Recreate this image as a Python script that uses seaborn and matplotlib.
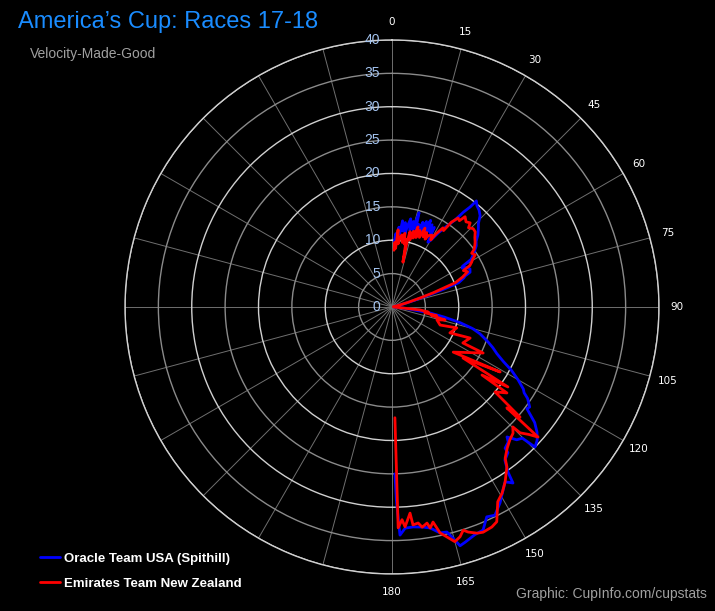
import numpy as np
import pandas as pd
import matplotlib
matplotlib.use('Agg')
import matplotlib.pyplot as plt
import matplotlib.transforms as mtransforms
from matplotlib.lines import Line2D
import seaborn as sns

# true wind angle (deg) and velocity-made-good (knots), in sailing order
oracle_angle = [2, 3, 4, 5, 6, 7, 8, 9, 10, 11, 12, 13, 14, 15, 16, 17, 18, 19, 20, 21,
                22, 23, 24, 25, 26, 27, 28, 29, 30, 32, 34, 36, 37, 38, 38.5, 40, 42, 44, 46, 48,
                50, 52, 54, 56, 58, 59, 60, 61, 62, 64, 66, 67, 68, 70, 71, 72, 73.5, 76, 80,
                92, 96, 99, 101, 103, 105, 107, 110, 112, 114, 116, 118, 120, 122, 123, 124, 126,
                127, 128.4, 129, 130.8, 132.5, 134.4, 135.2, 136.8, 138.5, 139.3, 141.3, 141.5,
                143.6, 144.9, 145.5, 147.1, 150, 151.1, 153.7, 155.7, 157.8, 160, 162.7, 164.1,
                165.4, 166.3, 168, 170.2, 172, 174.5, 176.6, 178, 178.7, 179]
oracle_vmg = [9.8, 11.0, 10.2, 12.0, 11.0, 13.0, 11.5, 12.8, 11.2, 12.5, 13.5, 11.8, 13.2, 12.0,
              14.7, 12.2, 13.0, 11.5, 13.5, 12.0, 13.8, 12.3, 14.2, 12.5, 13.7, 12.5, 13.5, 11.1,
              11.5, 13.1, 14.5, 16.2, 17.8, 19.0, 20.3, 19.8, 19.5, 19.0, 18.0, 17.4, 16.8, 16.0,
              15.6, 14.9, 14.2, 13.8, 12.2, 12.0, 12.6, 13.0, 12.8, 11.9, 11.6, 10.6, 8.3, 6.0,
              3.5, 1.5, 0.3,
              0.3, 2.0, 5.8, 8.0, 10.5, 12.5, 13.8, 15.3, 16.3, 17.2, 18.5, 20.3, 21.8, 23.2,
              23.6, 24.5, 25.5, 25.3, 26.8, 27.5, 28.7, 29.5, 30.0, 27.7, 27.3, 26.0, 26.7, 27.1,
              27.9, 28.5, 30.2, 32.0, 31.2, 32.8, 33.5, 34.8, 34.5, 36.1, 36.3, 36.9, 37.2, 35.6,
              34.7, 34.6, 33.6, 33.3, 33.1, 33.2, 34.2, 29.0, 25.0]

etnz_angle = [2, 2.5, 3.5, 4.5, 5.5, 6.5, 7.9, 9, 10, 11, 12, 13.7, 13, 13.5, 15, 16, 17, 18,
              19, 20, 21.5, 22.7, 24, 25, 26, 27, 29, 30, 31, 32.8, 34, 35, 36.6, 38, 39, 41,
              42.9, 44, 46, 47.9, 50, 52, 53.2, 55, 56, 58, 59.5, 60.6, 62, 63, 65, 67, 69, 70,
              71, 72, 74, 76, 80,
              92, 96, 98, 100, 101, 102, 103.8, 106, 110.6, 107.9, 114.1, 111.7, 116.9, 116.8,
              126.4, 121, 125.7, 124.6, 127.1, 126.8, 129.5, 130.7, 131.3, 131.7, 133, 134.5,
              134.8, 136.2, 138.4, 140.8, 143.2, 144.3, 147.1, 149.4, 151.5, 154, 155.6, 158,
              159.4, 161.3, 162.3, 163.5, 165, 166.6, 168, 169.2, 170.2, 170.8, 172.2, 173.1,
              174.5, 175, 176.6, 177.3, 178.4, 178.5]
etnz_vmg = [8.5, 9.7, 8.8, 11.6, 9.5, 10.5, 10.9, 9.8, 11.2, 9.6, 10.3, 6.9, 10.0, 11.6, 10.4,
            11.8, 10.8, 12.6, 11.0, 12.2, 11.2, 12.8, 11.5, 12.3, 11.3, 12.0, 12.3, 11.6, 12.8,
            14.1, 13.8, 15.5, 16.6, 16.4, 17.4, 16.9, 17.2, 16.5, 16.9, 16.8, 16.2, 15.8, 15.5,
            15.0, 14.4, 14.7, 14.0, 13.7, 13.2, 12.0, 12.5, 11.5, 10.2, 8.0, 6.5, 4.8, 2.5, 1.0,
            0.2,
            0.3, 4.2, 5.5, 5.0, 6.8, 6.0, 8.2, 7.0, 7.7, 10.2, 9.5, 12.6, 11.9, 15.3, 11.4, 18.9,
            13.1, 21.1, 16.9, 21.5, 20.0, 25.3, 22.9, 29.3, 28.0, 26.9, 25.5, 26.2, 26.6, 27.3,
            28.3, 29.5, 31.2, 32.4, 33.2, 35.8, 36.2, 36.4, 36.2, 35.6, 35.1, 35.9, 36.4, 35.4,
            34.6, 32.8, 33.6, 32.8, 33.3, 32.6, 32.8, 31.0, 33.0, 31.9, 33.1, 16.6]

teams = ['Oracle Team USA (Spithill)', 'Emirates Team New Zealand']
colors = {teams[0]: '#0000ff', teams[1]: '#ff0000'}

df = pd.concat([
    pd.DataFrame({'angle': oracle_angle, 'vmg': oracle_vmg, 'team': teams[0]}),
    pd.DataFrame({'angle': etnz_angle, 'vmg': etnz_vmg, 'team': teams[1]}),
], ignore_index=True)
df['theta'] = np.deg2rad(df['angle'])

sns.set_theme(style='dark', rc={'figure.facecolor': 'black', 'axes.facecolor': 'black',
                                'savefig.facecolor': 'black'})
plt.rcParams['font.family'] = ['Liberation Sans', 'DejaVu Sans']

fig = plt.figure(figsize=(7.15, 6.11), dpi=100)
ax = fig.add_axes([0.1748, 0.0606, 0.7469, 0.874], projection='polar')
ax.set_facecolor('black')
ax.set_theta_zero_location('N')
ax.set_theta_direction(-1)

sns.lineplot(data=df, x='theta', y='vmg', hue='team', hue_order=teams, palette=colors,
             sort=False, estimator=None, linewidth=2.0, legend=False, ax=ax)
ax.set_xlabel('')
ax.set_ylabel('')

# rings every 5 knots, brighter every 10
rticks = list(range(0, 45, 5))
ax.set_ylim(0, 40)
ax.set_yticks(rticks)
ax.set_yticklabels([])
ax.yaxis.grid(True)
for r, tick in zip(rticks, ax.yaxis.get_major_ticks()):
    tick.gridline.set_color('#d0d0d0' if r % 10 == 0 else '#8a8a8a')
    tick.gridline.set_linewidth(1.0)
ax.spines['polar'].set_color('#d0d0d0')
ax.spines['polar'].set_linewidth(1.0)

angles = np.arange(0, 360, 15)
ax.set_thetagrids(angles, labels=[str(a) if a <= 180 else '' for a in angles])
ax.xaxis.grid(True, color='#6f6f6f', linewidth=0.7)
ax.tick_params(axis='x', colors='white', labelsize=7.5, pad=0)
for lab in ax.get_xticklabels():
    lab.set_fontfamily('DejaVu Sans')

off = mtransforms.offset_copy(ax.transData, fig=fig, x=-8.5, y=0, units='points')
for r in rticks:
    ax.text(0, r, str(r), transform=off, ha='right', va='center', color='#a4c4f0', fontsize=10)

fig.text(18 / 715, 1 - 22 / 611, 'America\u2019s Cup: Races 17-18', color='#1a8cff',
         fontsize=17, ha='left', va='center')
fig.text(30 / 715, 1 - 54 / 611, 'Velocity-Made-Good', color='#a0a0a0', fontsize=10,
         ha='left', va='center')
fig.text(707 / 715, 1 - 594 / 611, 'Graphic: CupInfo.com/cupstats', color='#a0a0a0',
         fontsize=10, ha='right', va='center')

handles = [Line2D([], [], color=colors[t], linewidth=2) for t in teams]
fig.legend(handles, teams, loc='lower left', bbox_to_anchor=(0.039, 0.015), frameon=False,
           handlelength=1.5, handletextpad=0.3, labelspacing=1.0,
           prop={'weight': 'bold', 'size': 9.5}, labelcolor='white')

fig.savefig('out.png', dpi=100, facecolor='black')
